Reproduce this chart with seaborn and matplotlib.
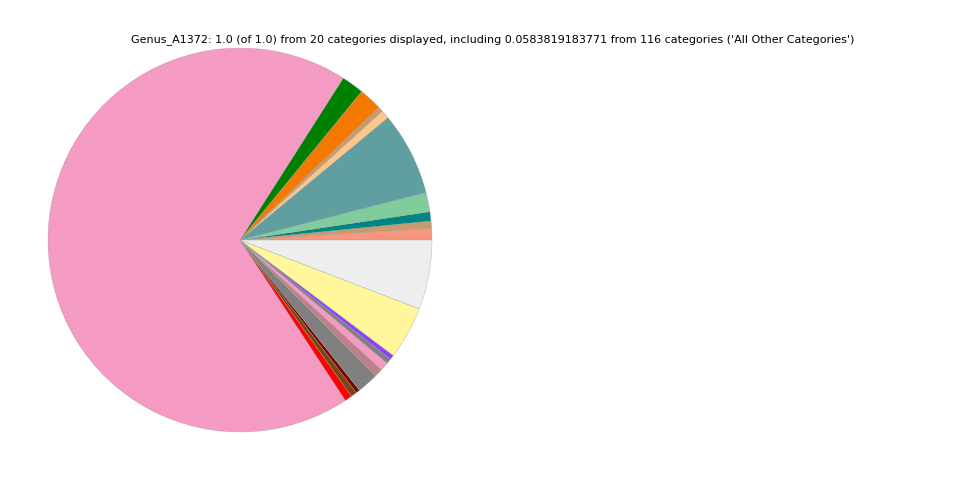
"""
plot.py — pie of genus abundance for sample A1372
"""

import matplotlib
matplotlib.use('Agg')
import matplotlib.pyplot as plt
import seaborn as sns

sns.set_style('white')
plt.rcParams['font.family'] = ['DejaVu Sans']
plt.rcParams['text.color'] = 'black'

SAMPLE = 'Genus_A1372'
OTHER_VALUE = 0.0583819183771
OTHER_COUNT = 116

categories = [
    'Genus_01', 'Genus_02', 'Genus_03', 'Genus_04', 'Genus_05',
    'Genus_06', 'Genus_07', 'Genus_08', 'Genus_09', 'Genus_10',
    'Genus_11', 'Genus_12', 'Genus_13', 'Genus_14', 'Genus_15',
    'Genus_16', 'Genus_17', 'Genus_18', 'Genus_19', 'All Other Categories',
]
values = [
    0.0097, 0.0061, 0.0078, 0.0161, 0.0703,
    0.0072, 0.0042, 0.0194, 0.0189, 0.6828,
    0.0061, 0.0050, 0.0033, 0.0181, 0.0069,
    0.0072, 0.0042, 0.0039, 0.0444, OTHER_VALUE,
]
colors = [
    '#F8977E', '#C89B6E', '#008585', '#80CC9C', '#5F9F9F',
    '#FFC68A', '#C89B6E', '#F57900', '#008000', '#F49AC3',
    '#FF0000', '#7B4512', '#800000', '#808080', '#C0808A',
    '#F49AC3', '#808080', '#8C3FFF', '#FFF799', '#EEEEEE',
]

fig = plt.figure(figsize=(9.6, 4.8), dpi=100)
ax = fig.add_axes([0, 0, 0.5, 1])
ax.pie(values, colors=colors, startangle=0, counterclock=True,
       wedgeprops=dict(edgecolor='#A0A0A0', linewidth=0.25))
ax.set_aspect('equal')

total = sum(values)
title = (f"{SAMPLE}: {round(total, 1)} (of 1.0) from {len(categories)} categories displayed, "
         f"including {OTHER_VALUE} from {OTHER_COUNT} categories ('All Other Categories')")
fig.text(0.513, 0.917, title, ha='center', va='center', fontsize=8, color='black')

plt.savefig('out.png', dpi=100)
plt.close()
